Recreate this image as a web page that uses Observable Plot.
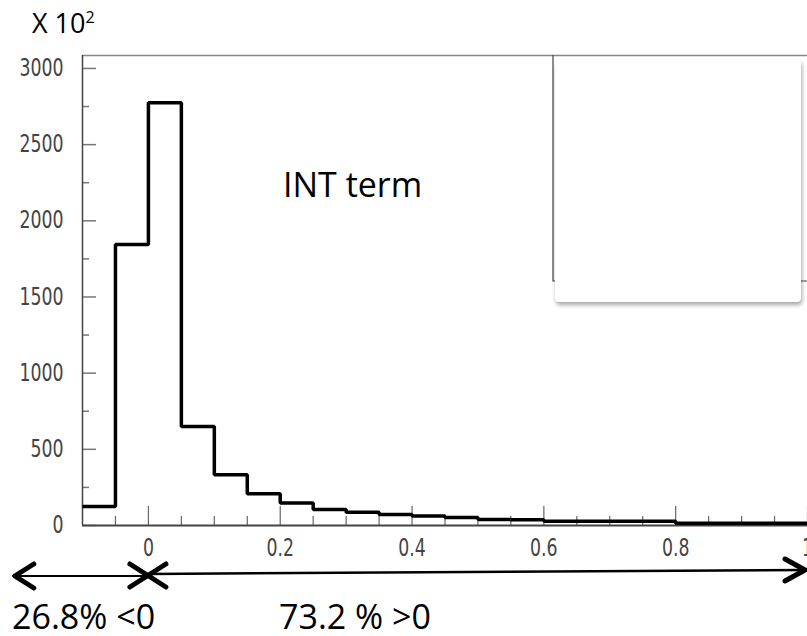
<!DOCTYPE html>
<html><head><meta charset="utf-8">
<script src="https://cdn.jsdelivr.net/npm/d3@7"></script>
<script src="https://cdn.jsdelivr.net/npm/@observablehq/plot@0.6"></script>
<style>
body{margin:0;background:#fff;}
#wrap{position:relative;width:807px;height:636px;overflow:hidden;background:#fff;}
#wrap svg{position:absolute;left:0;top:0;}
#statbox{position:absolute;left:555px;top:60px;width:246px;height:242px;background:#fff;border-radius:4px;box-shadow:1px 3px 4px rgba(0,0,0,0.35);}
</style></head><body><div id="wrap"></div>
<script>
// Histogram bins (left edges) and contents in units of 10^2
const binStart = [-0.1,-0.05,0,0.05,0.1,0.15,0.2,0.25,0.3,0.35,0.4,0.45,0.5,0.55,0.6,0.65,0.7,0.75,0.8,0.85,0.9,0.95];
const counts   = [125,1845,2775,650,333,208,148,105,87,72,63,53,40,38,28,28,28,28,15,15,15,15];
const xEnd = 1.0;
const yMajor = [0,500,1000,1500,2000,2500,3000];
const yMinor = [250,750,1250,1750,2250,2750];
const xMajor = [0,0.2,0.4,0.6,0.8,1];
const xMinor = [-0.05,0.05,0.1,0.15,0.25,0.3,0.35,0.45,0.5,0.55,0.65,0.7,0.75,0.85,0.9,0.95];
const scaleLabel = "X 10";
const scaleExp = "2";
const histTitle = "INT term";
const negText = "26.8% <0";
const posText = "73.2 % >0";
const splitAt = 0, arrowFrom = -0.205, arrowTo = 1.0;

const pts = binStart.map((x,i)=>({x, y: counts[i]}));
pts.push({x: xEnd, y: counts[counts.length-1]});

const W=807,H=636,mL=82,mT=55,mB=111,mR=0;
const plotH=H-mT-mB, plotW=W-mL-mR;
const yMax=3085;
const tickFont="'DejaVu Sans Condensed','DejaVu Sans',sans-serif";

const chart = Plot.plot({
  width:W,height:H,marginLeft:mL,marginRight:mR,marginTop:mT,marginBottom:mB,
  x:{domain:[-0.1,1.0]}, y:{domain:[0,yMax]},
  style:{fontFamily:tickFont,fontSize:"24px",background:"white",overflow:"visible"},
  marks:[
    Plot.ruleY(yMinor,{insetRight:plotW-7,stroke:"#777",strokeWidth:1.5}),
    Plot.ruleY(yMajor,{insetRight:plotW-14,stroke:"#777",strokeWidth:1.5}),
    Plot.ruleX(xMinor,{insetTop:plotH-9,stroke:"#666",strokeWidth:1.2}),
    Plot.ruleX(xMajor,{insetTop:plotH-19,stroke:"#666",strokeWidth:1.2}),
    Plot.axisY({ticks:yMajor,tickSize:0,tickPadding:19,tickFormat:d3.format("d"),fill:"#444",fontSize:24,label:null}),
    Plot.axisX({ticks:xMajor,tickSize:0,tickPadding:13,tickFormat:d3.format("~g"),fill:"#444",fontSize:24,label:null}),
    Plot.ruleY([yMax],{stroke:"#888",strokeWidth:1.5}),
    Plot.ruleX([-0.1],{stroke:"#444",strokeWidth:1.5}),
    Plot.ruleY([0],{stroke:"#444",strokeWidth:2}),
    Plot.line(pts,{x:"x",y:"y",curve:"step-after",stroke:"black",strokeWidth:3.5,strokeLinejoin:"miter",strokeLinecap:"butt"})
  ]
});
document.getElementById("wrap").appendChild(chart);

// condense tick labels (tall narrow glyphs as in the original)
d3.select(chart).selectAll('g[aria-label$="tick label"] text').each(function(){
  const L = this.getComputedTextLength();
  if (L > 0) { this.setAttribute("textLength", (L*0.8).toFixed(1)); this.setAttribute("lengthAdjust","spacingAndGlyphs"); }
});

const svg = d3.select(chart);
const xs = chart.scale("x"), ys = chart.scale("y");
const px = v => xs.apply(v);
const g = svg.append("g").attr("text-anchor","start");

// stats box border
const bx = 553, by = ys.apply(yMax), bb = 281;
g.append("path").attr("d",`M${bx},${by}V${bb}H${W}`).attr("fill","none").attr("stroke","#444").attr("stroke-width",1.2);

// arrows
const xa = px(arrowFrom), x0 = px(splitAt), xb = px(arrowTo)-2;
g.append("line").attr("x1",xa).attr("y1",576).attr("x2",x0).attr("y2",576).attr("stroke","black").attr("stroke-width",2);
g.append("line").attr("x1",x0).attr("y1",574).attr("x2",xb).attr("y2",570).attr("stroke","black").attr("stroke-width",2.5);
const chev = (pts)=>g.append("polyline").attr("points",pts.map(p=>p.join(",")).join(" ")).attr("fill","none").attr("stroke","black").attr("stroke-width",5).attr("stroke-linecap","round").attr("stroke-linejoin","round");
chev([[xa+21,564],[xa+2,576],[xa+21,588]]);
g.append("line").attr("x1",x0-18).attr("y1",564).attr("x2",x0+18).attr("y2",587).attr("stroke","black").attr("stroke-width",5).attr("stroke-linecap","round");
g.append("line").attr("x1",x0-18).attr("y1",587).attr("x2",x0+18).attr("y2",564).attr("stroke","black").attr("stroke-width",5).attr("stroke-linecap","round");
chev([[xb-20,559],[xb,570],[xb-20,581]]);

// texts
const tf = "'Open Sans',Lato,sans-serif";
const t1 = g.append("text").attr("x",32).attr("y",33).attr("font-family",tf).attr("font-size",27).attr("fill","black").text(scaleLabel);
t1.append("tspan").attr("font-size",16).attr("dy",-10).text(scaleExp);
g.append("text").attr("x",283).attr("y",197).attr("font-family",tf).attr("font-size",34).attr("fill","black").text(histTitle);
g.append("text").attr("x",12).attr("y",629).attr("font-family",tf).attr("font-size",34).attr("fill","black").text(negText);
g.append("text").attr("x",279).attr("y",629).attr("font-family",tf).attr("font-size",34).attr("fill","black").text(posText);

const box = document.createElement("div"); box.id="statbox";
document.getElementById("wrap").appendChild(box);
</script></body></html>
